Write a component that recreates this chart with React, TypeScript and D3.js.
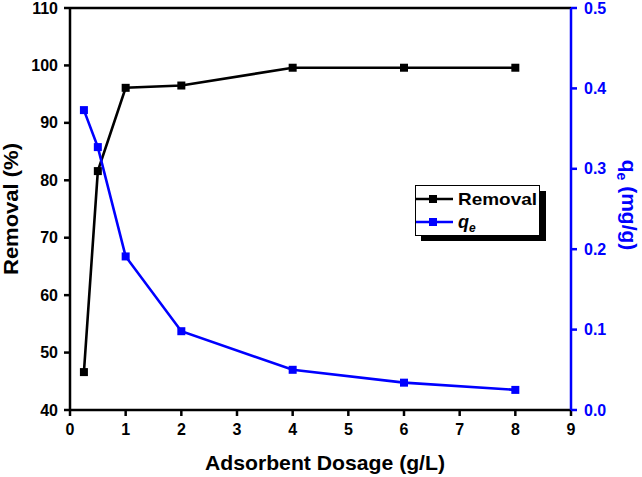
import React from "react";
import * as d3 from "d3";

const dosage = [0.25, 0.5, 1, 2, 4, 6, 8];
const removal = [46.6, 81.6, 96.1, 96.5, 99.6, 99.6, 99.6];
const qe = [0.373, 0.327, 0.191, 0.098, 0.05, 0.034, 0.025];
const xTicks = [0, 1, 2, 3, 4, 5, 6, 7, 8, 9];
const yLeftTicks = [40, 50, 60, 70, 80, 90, 100, 110];
const yRightTicks = [0, 0.1, 0.2, 0.3, 0.4, 0.5];

const W = 642, H = 477;
const L = 70, R = 571, T = 8, B = 410;
const FONT = "'Liberation Sans', Arial, sans-serif";

export default function App() {
  const x = d3.scaleLinear().domain([0, 9]).range([L, R]);
  const yl = d3.scaleLinear().domain([40, 110]).range([B, T]);
  const yr = d3.scaleLinear().domain([0, 0.5]).range([B, T]);
  const lineL = d3.line<number>().x((_, i) => x(dosage[i])).y((d) => yl(d));
  const lineR = d3.line<number>().x((_, i) => x(dosage[i])).y((d) => yr(d));
  const ms = 8;
  return (
    <svg width={W} height={H} style={{ position: "absolute", left: 0, top: 0, background: "#fff" }}>
      <rect x={0} y={0} width={W} height={H} fill="#fff" />
      {/* data */}
      <path d={lineL(removal) || ""} fill="none" stroke="#000" strokeWidth={2.6} />
      {removal.map((d, i) => (
        <rect key={"rm" + i} x={x(dosage[i]) - ms / 2} y={yl(d) - ms / 2} width={ms} height={ms} fill="#000" />
      ))}
      <path d={lineR(qe) || ""} fill="none" stroke="#0000ff" strokeWidth={2.6} />
      {qe.map((d, i) => (
        <rect key={"qm" + i} x={x(dosage[i]) - ms / 2} y={yr(d) - ms / 2} width={ms} height={ms} fill="#0000ff" />
      ))}
      {/* frame */}
      <line x1={L} x2={R} y1={T} y2={T} stroke="#000" strokeWidth={2.5} />
      <line x1={L} x2={R} y1={B} y2={B} stroke="#000" strokeWidth={2.5} />
      <line x1={L} x2={L} y1={T} y2={B} stroke="#000" strokeWidth={2.5} />
      <line x1={R} x2={R} y1={T} y2={B} stroke="#0000ff" strokeWidth={2.5} />
      {/* x ticks */}
      {xTicks.map((t) => (
        <g key={"xt" + t}>
          <line x1={x(t)} x2={x(t)} y1={B} y2={B + 6} stroke="#000" strokeWidth={2.5} />
          <text x={x(t)} y={B + 25} textAnchor="middle" fontFamily={FONT} fontWeight="bold" fontSize={16} fill="#000">{t}</text>
        </g>
      ))}
      {/* left ticks */}
      {yLeftTicks.map((t) => (
        <g key={"yl" + t}>
          <line x1={L - 6} x2={L} y1={yl(t)} y2={yl(t)} stroke="#000" strokeWidth={2.5} />
          <text x={L - 12} y={yl(t) + 5.5} textAnchor="end" fontFamily={FONT} fontWeight="bold" fontSize={16} fill="#000">{t}</text>
        </g>
      ))}
      {/* right ticks */}
      {yRightTicks.map((t) => (
        <g key={"yr" + t}>
          <line x1={R} x2={R + 6} y1={yr(t)} y2={yr(t)} stroke="#0000ff" strokeWidth={2.5} />
          <text x={R + 13} y={yr(t) + 5.5} textAnchor="start" fontFamily={FONT} fontWeight="bold" fontSize={16} fill="#0000ff">{t.toFixed(1)}</text>
        </g>
      ))}
      {/* axis titles */}
      <text x={325} y={470} textAnchor="middle" fontFamily={FONT} fontWeight="bold" fontSize={21} fill="#000" textLength={240} lengthAdjust="spacingAndGlyphs">Adsorbent Dosage (g/L)</text>
      <text transform={`translate(18,209) rotate(-90)`} textAnchor="middle" fontFamily={FONT} fontWeight="bold" fontSize={20} fill="#000" textLength={132} lengthAdjust="spacingAndGlyphs">Removal (%)</text>
      <text transform={`translate(622,205) rotate(90)`} textAnchor="middle" fontFamily={FONT} fontWeight="bold" fontSize={21} fill="#0000ff">
        <tspan>q</tspan>
        <tspan fontSize={14} dy={5}>e</tspan>
        <tspan dy={-5}> (mg/g)</tspan>
      </text>
      {/* legend */}
      <rect x={421} y={191} width={125} height={50} fill="#000" />
      <rect x={415.5} y={185.5} width={124} height={50} fill="#fff" stroke="#000" strokeWidth={1} />
      <line x1={416} x2={453} y1={199} y2={199} stroke="#000" strokeWidth={2.6} />
      <rect x={433 - ms / 2} y={199 - ms / 2} width={ms} height={ms} fill="#000" />
      <text x={458} y={205} fontFamily={FONT} fontWeight="bold" fontSize={17} fill="#000" textLength={79} lengthAdjust="spacingAndGlyphs">Removal</text>
      <line x1={416} x2={453} y1={222} y2={222} stroke="#0000ff" strokeWidth={2.6} />
      <rect x={433 - ms / 2} y={222 - ms / 2} width={ms} height={ms} fill="#0000ff" />
      <text x={458} y={228} fontFamily={FONT} fontWeight="bold" fontSize={18} fill="#000">
        <tspan fontStyle="italic">q</tspan>
        <tspan fontStyle="italic" fontSize={12} dy={4}>e</tspan>
      </text>
    </svg>
  );
}
